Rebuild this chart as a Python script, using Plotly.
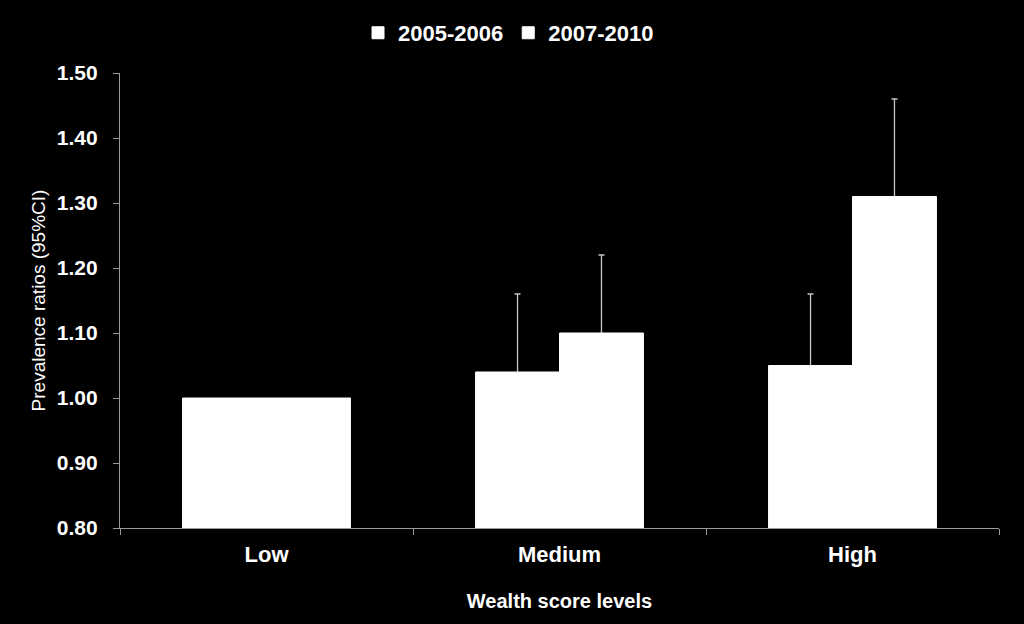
import plotly.graph_objects as go

categories = ["Low", "Medium", "High"]
pr_2005_2006 = [1.00, 1.04, 1.05]
ci_upper_2005_2006 = [None, 1.16, 1.16]
pr_2007_2010 = [1.00, 1.10, 1.31]
ci_upper_2007_2010 = [None, 1.22, 1.46]

FONT = "Arial, 'Liberation Sans', sans-serif"

fig = go.Figure()


def add_series(name, vals, ups, group):
    # transparent carrier for the upper CI whiskers (lower shoe hidden under the bar)
    ys = [v if u is not None else None for v, u in zip(vals, ups)]
    plus = [(u - v) if u is not None else 0 for v, u in zip(vals, ups)]
    minus = [0.006 if u is not None else 0 for u in ups]
    fig.add_trace(go.Bar(
        name=name, x=categories, y=ys, offsetgroup=group, showlegend=False,
        marker=dict(color="rgba(0,0,0,0)", line=dict(width=0)), hoverinfo="skip",
        error_y=dict(type="data", symmetric=False, array=plus, arrayminus=minus,
                     color="#c8c8c8", thickness=1.3, width=3),
    ))
    fig.add_trace(go.Bar(
        name=name, x=categories, y=vals, offsetgroup=group,
        marker=dict(color="white", line=dict(width=1, color="white")),
    ))


add_series("2005-2006", pr_2005_2006, ci_upper_2005_2006, "a")
add_series("2007-2010", pr_2007_2010, ci_upper_2007_2010, "b")

fig.update_layout(
    width=1024, height=624,
    paper_bgcolor="black", plot_bgcolor="black",
    margin=dict(l=120, r=25, t=73, b=96),
    barmode="group", bargap=0.427, bargroupgap=0,
    font=dict(family=FONT, color="white"),
    showlegend=True,
    legend=dict(orientation="h", x=0.442, xanchor="center", y=1.088, yanchor="middle",
                font=dict(size=22, family=FONT, color="white", weight="bold"),
                bgcolor="rgba(0,0,0,0)"),
    xaxis=dict(
        showline=True, linecolor="#9a9a9a", linewidth=1.3,
        ticks="outside", tickson="boundaries", ticklen=6, tickcolor="#9a9a9a",
        ticklabelstandoff=6,
        tickfont=dict(size=22, family=FONT, color="white", weight="bold"),
        title=dict(text="Wealth score levels", standoff=28,
                   font=dict(size=20, family=FONT, color="white", weight="bold")),
        showgrid=False, zeroline=False,
    ),
    yaxis=dict(
        range=[0.8, 1.5], dtick=0.1, tick0=0.8, tickformat=".2f",
        showline=True, linecolor="#9a9a9a", linewidth=1.3,
        ticks="outside", ticklen=6, tickcolor="#9a9a9a",
        ticklabelstandoff=11,
        tickfont=dict(size=21, family=FONT, color="white", weight="bold"),
        title=dict(text="Prevalence ratios (95%CI)", standoff=6,
                   font=dict(size=19, family=FONT, color="white")),
        showgrid=False, zeroline=False,
    ),
)

fig.write_html("out.html")
